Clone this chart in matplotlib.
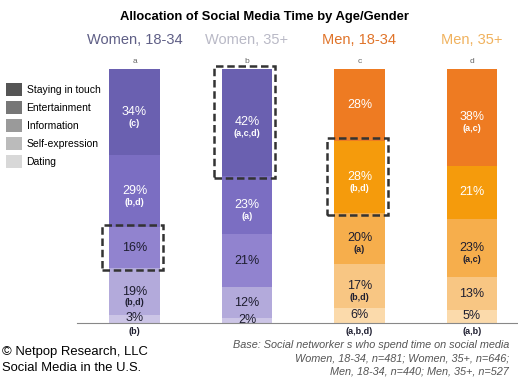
import numpy as np
import matplotlib.pyplot as plt
from matplotlib.patches import Patch, Rectangle

plt.rcParams['font.family'] = ['Liberation Sans', 'DejaVu Sans']

grupos = ["Women, 18-34", "Women, 35+", "Men, 18-34", "Men, 35+"]
letras = ["a", "b", "c", "d"]
atividades = ["Staying in touch", "Entertainment", "Information", "Self-expression", "Dating"]

# valores por grupo, de cima (Staying in touch) para baixo (Dating)
valores = {
    "Women, 18-34": [34, 29, 16, 19, 3],
    "Women, 35+": [42, 23, 21, 12, 2],
    "Men, 18-34": [28, 28, 20, 17, 6],
    "Men, 35+": [38, 21, 23, 13, 5],
}
notas = {
    "Women, 18-34": ["(c)", "(b,d)", "", "(b,d)", "(b)"],
    "Women, 35+": ["(a,c,d)", "(a)", "", "", ""],
    "Men, 18-34": ["", "(b,d)", "(a)", "(b,d)", "(a,b,d)"],
    "Men, 35+": ["(a,c)", "", "(a,c)", "", "(a,b)"],
}
# segmentos destacados (grupo, indice da atividade)
destaques = [(0, 2), (1, 0), (2, 1)]

cores_mulher = ["#6a60b0", "#7b6ec2", "#9183cf", "#b3aadb", "#ccc5e6"]
cores_homem = ["#ee7b22", "#f59b0c", "#f6ae4c", "#f8c683", "#fbdaab"]
cores_legenda = ["#555555", "#777777", "#9a9a9a", "#bbbbbb", "#d8d8d8"]
cores_titulo = ["#5f5f86", "#b9b9c6", "#e0742a", "#f0b25e"]

fig = plt.figure(figsize=(5.18, 3.80), dpi=100)
W, H = 518, 380
ax = fig.add_axes([77 / W, 57 / H, 440 / W, 254 / H])

largura = 0.445
for i, g in enumerate(grupos):
    cores = cores_mulher if i < 2 else cores_homem
    vals = valores[g]
    escala = 100 / sum(vals)  # barras arredondadas somam 99-101, normaliza a 100
    base = 0
    # desenha de baixo para cima
    for k in range(len(vals) - 1, -1, -1):
        v = vals[k]
        h = v * escala
        ax.bar(i, h, bottom=base, width=largura, color=cores[k], linewidth=0)
        centro = base + h / 2
        cor_txt = "white" if k < 2 else "#1e1e30"
        nota = notas[g][k]
        if k == 4:
            ax.text(i, centro + 0.3, f"{v}%", ha="center", va="center", fontsize=9, color=cor_txt)
            if nota:
                ax.text(i, -3.2, nota, ha="center", va="center", fontsize=6.5,
                        fontweight="bold", color="#1e1e30", clip_on=False)
        else:
            ax.text(i, centro, f"{v}%", ha="center", va="center", fontsize=9, color=cor_txt)
            if nota:
                ax.text(i, centro - 4.5, nota, ha="center", va="center", fontsize=6.5,
                        fontweight="bold", color=cor_txt)
        if (i, k) in destaques:
            ax.add_patch(Rectangle((i - largura / 2 - 0.07, base - 1.0), largura + 0.1, h + 2.0,
                                   fill=False, ls=(0, (3, 1.5)), lw=1.8, ec="#333333",
                                   clip_on=False, zorder=5))
        base += h
    ax.text(i, 111.5, g, ha="center", va="center", fontsize=10.5, color=cores_titulo[i], clip_on=False)
    ax.text(i, 102.8, letras[i], ha="center", va="center", fontsize=6, color="#666666", clip_on=False)

ax.set_xlim(-0.511, 3.4)
ax.set_ylim(0, 100)
for s in ["top", "right", "left"]:
    ax.spines[s].set_visible(False)
ax.spines["bottom"].set_color("#888888")
ax.spines["bottom"].set_linewidth(0.8)
ax.set_xticks([])
ax.set_yticks([])
ax.patch.set_alpha(0)

handles = [Patch(facecolor=c, edgecolor="none") for c in cores_legenda]
fig.legend(handles, atividades, loc="upper left", bbox_to_anchor=(0.0, 1 - 77 / H),
           frameon=False, fontsize=7.5, handlelength=1.5, handleheight=1.5,
           handletextpad=0.45, labelspacing=0.5, borderaxespad=0.2)

fig.text(265 / W, 1 - 17 / H, "Allocation of Social Media Time by Age/Gender",
         ha="center", va="center", fontsize=9.4, fontweight="bold")
fig.text(2 / W, 1 - 352 / H, "© Netpop Research, LLC", ha="left", va="center", fontsize=9.4)
fig.text(2 / W, 1 - 368 / H, "Social Media in the U.S.", ha="left", va="center", fontsize=9.4)
base_txt = ["Base: Social networker s who spend time on social media",
            "Women, 18-34, n=481; Women, 35+, n=646;",
            "Men, 18-34, n=440; Men, 35+, n=527"]
for j, t in enumerate(base_txt):
    fig.text(509 / W, 1 - (345 + j * 13.5) / H, t, ha="right", va="center",
             fontsize=7.8, style="italic", color="#555555")

fig.savefig("out.png", dpi=100)
